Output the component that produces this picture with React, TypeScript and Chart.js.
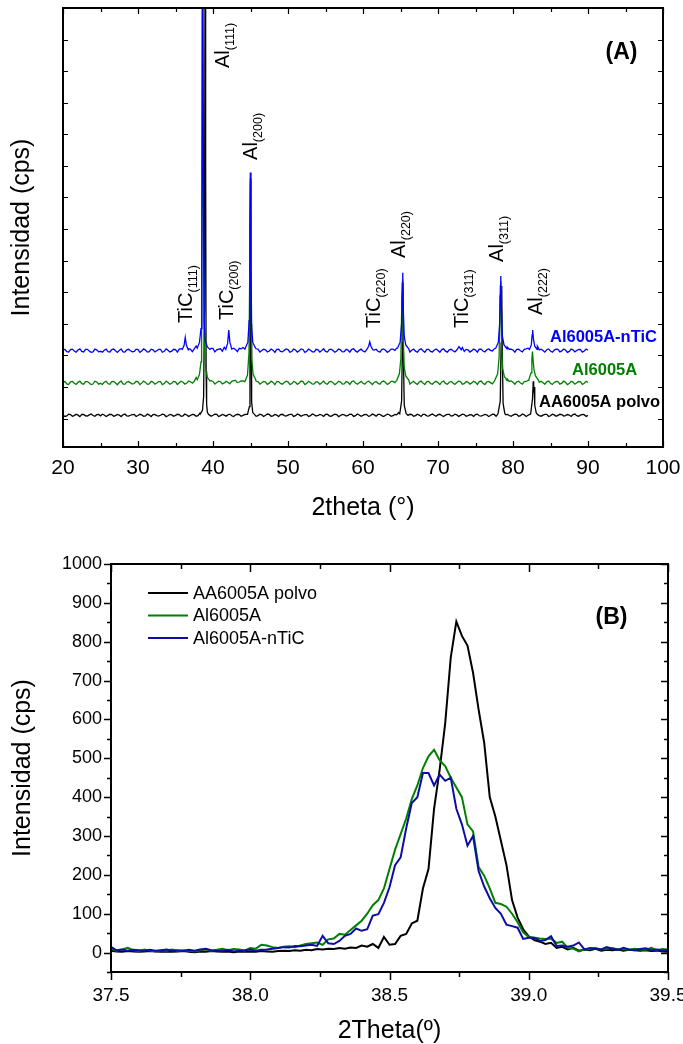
import React, { useEffect, useRef } from "react";
import { Chart, registerables } from "chart.js";
Chart.register(...registerables);

const FONT = "'Liberation Sans', Arial, Helvetica, sans-serif";

// ---------------- Panel (A) data ----------------
const seriesNames = ["AA6005A polvo", "Al6005A", "Al6005A-nTiC"];
const colorsA = ["#000000", "#008000", "#0000FF"];

const angleGrid = [
  20, 20.5, 21, 21.5, 22, 22.5, 23, 23.5, 24, 24.5,
  25, 25.5, 26, 26.5, 27, 27.5, 28, 28.5, 29, 29.5,
  30, 30.5, 31, 31.5, 32, 32.5, 33, 33.5, 34, 34.5,
  35, 35.5, 36, 36.5, 37, 37.5, 38, 38.5, 39, 39.5,
  40, 40.5, 41, 41.5, 42, 42.5, 43, 43.5, 44, 44.5,
  45, 45.5, 46, 46.5, 47, 47.5, 48, 48.5, 49, 49.5,
  50, 50.5, 51, 51.5, 52, 52.5, 53, 53.5, 54, 54.5,
  55, 55.5, 56, 56.5, 57, 57.5, 58, 58.5, 59, 59.5,
  60, 60.5, 61, 61.5, 62, 62.5, 63, 63.5, 64, 64.5,
  65, 65.5, 66, 66.5, 67, 67.5, 68, 68.5, 69, 69.5,
  70, 70.5, 71, 71.5, 72, 72.5, 73, 73.5, 74, 74.5,
  75, 75.5, 76, 76.5, 77, 77.5, 78, 78.5, 79, 79.5,
  80, 80.5, 81, 81.5, 82, 82.5, 83, 83.5, 84, 84.5,
  85, 85.5, 86, 86.5, 87, 87.5, 88, 88.5, 89, 89.5,
  90,
];

const angleGridMid = [
  20.25, 20.75, 21.25, 21.75, 22.25, 22.75, 23.25, 23.75, 24.25, 24.75,
  25.25, 25.75, 26.25, 26.75, 27.25, 27.75, 28.25, 28.75, 29.25, 29.75,
  30.25, 30.75, 31.25, 31.75, 32.25, 32.75, 33.25, 33.75, 34.25, 34.75,
  35.25, 35.75, 36.25, 36.75, 37.25, 37.75, 38.25, 38.75, 39.25, 39.75,
  40.25, 40.75, 41.25, 41.75, 42.25, 42.75, 43.25, 43.75, 44.25, 44.75,
  45.25, 45.75, 46.25, 46.75, 47.25, 47.75, 48.25, 48.75, 49.25, 49.75,
  50.25, 50.75, 51.25, 51.75, 52.25, 52.75, 53.25, 53.75, 54.25, 54.75,
  55.25, 55.75, 56.25, 56.75, 57.25, 57.75, 58.25, 58.75, 59.25, 59.75,
  60.25, 60.75, 61.25, 61.75, 62.25, 62.75, 63.25, 63.75, 64.25, 64.75,
  65.25, 65.75, 66.25, 66.75, 67.25, 67.75, 68.25, 68.75, 69.25, 69.75,
  70.25, 70.75, 71.25, 71.75, 72.25, 72.75, 73.25, 73.75, 74.25, 74.75,
  75.25, 75.75, 76.25, 76.75, 77.25, 77.75, 78.25, 78.75, 79.25, 79.75,
  80.25, 80.75, 81.25, 81.75, 82.25, 82.75, 83.25, 83.75, 84.25, 84.75,
  85.25, 85.75, 86.25, 86.75, 87.25, 87.75, 88.25, 88.75, 89.25, 89.75,
];

const blackBackground = [
  112, 84, 126, 95, 108, 131, 89, 117, 98, 124,
  86, 115, 102, 129, 93, 110, 121, 88, 105, 134,
  97, 119, 85, 111, 127, 94, 106, 123, 90, 116,
  101, 128, 87, 113, 99, 125, 92, 140, 160, 118,
  104, 131, 95, 109, 122, 89, 114, 126, 100, 135,
  150, 128, 91, 118, 103, 130, 87, 112, 124, 96,
  109, 133, 90, 117, 105, 127, 93, 120, 98, 114,
  131, 88, 108, 125, 97, 119, 104, 136, 92, 113,
  100, 126, 89, 115, 130, 95, 107, 122, 91, 118,
  160, 125, 102, 129, 94, 111, 132, 87, 116, 104,
  123, 96, 110, 134, 90, 119, 101, 127, 93, 114,
  128, 89, 106, 121, 99, 130, 110, 150, 126, 97,
  112, 133, 92, 118, 105, 140, 124, 95, 109, 131,
  88, 117, 103, 126, 94, 112, 129, 91, 108, 122,
  100,
];

const blackBackgroundMid = [
  68, 141, 75, 138, 62, 129, 80, 145, 71, 133,
  140, 66, 137, 74, 131, 63, 142, 77, 128, 69,
  135, 72, 144, 65, 130, 79, 139, 61, 134, 73,
  137, 70, 143, 68, 132, 76, 170, 400, 200, 75,
  139, 64, 133, 78, 141, 67, 136, 73, 129, 180,
  160, 71, 138, 66, 143, 75, 130, 62, 137, 79,
  134, 69, 141, 73, 128, 65, 145, 77, 132, 68,
  140, 72, 136, 63, 131, 80, 138, 67, 144, 74,
  129, 70, 142, 76, 135, 64, 139, 71, 133, 190,
  170, 68, 137, 75, 140, 66, 131, 79, 143, 72,
  136, 63, 130, 78, 141, 69, 138, 74, 127, 66,
  142, 77, 135, 65, 139, 72, 200, 300, 130, 70,
  137, 73, 144, 68, 131, 190, 160, 76, 134, 64,
  140, 71, 136, 79, 129, 67, 143, 74, 132, 69,
];

const greenBackground = [
  1135, 1098, 1162, 1120, 1147, 1105, 1171, 1128, 1093, 1156,
  1117, 1149, 1102, 1168, 1125, 1140, 1096, 1159, 1131, 1110,
  1164, 1122, 1145, 1099, 1153, 1127, 1172, 1108, 1141, 1118,
  1160, 1133, 1150, 1124, 1167, 1180, 1250, 1400, 1500, 1230,
  1175, 1142, 1166, 1129, 1152, 1180, 1210, 1158, 1190, 1260,
  1300, 1220, 1168, 1135, 1157, 1121, 1146, 1173, 1114, 1139,
  1162, 1105, 1150, 1127, 1169, 1116, 1144, 1098, 1158, 1132,
  1111, 1163, 1138, 1120, 1155, 1101, 1148, 1170, 1124, 1137,
  1119, 1160, 1131, 1145, 1112, 1166, 1140, 1122, 1175, 1200,
  1300, 1230, 1165, 1141, 1118, 1156, 1128, 1170, 1109, 1147,
  1134, 1161, 1115, 1152, 1126, 1143, 1168, 1107, 1154, 1130,
  1146, 1172, 1121, 1158, 1139, 1180, 1215, 1300, 1250, 1175,
  1148, 1163, 1129, 1170, 1210, 1260, 1190, 1152, 1136, 1161,
  1117, 1145, 1168, 1123, 1150, 1108, 1157, 1134, 1166, 1120,
  1142,
];

const greenBackgroundMid = [
  1178, 1082, 1175, 1079, 1186, 1088, 1172, 1075, 1183, 1091,
  1080, 1180, 1087, 1177, 1072, 1188, 1084, 1174, 1090, 1181,
  1076, 1185, 1083, 1179, 1089, 1171, 1078, 1187, 1085, 1176,
  1081, 1182, 1092, 1190, 1120, 1300, 1350, 2000, 1350, 1200,
  1090, 1185, 1095, 1180, 1100, 1200, 1140, 1195, 1170, 1380,
  1350, 1180, 1090, 1178, 1084, 1186, 1077, 1173, 1089, 1184,
  1079, 1176, 1086, 1189, 1074, 1181, 1091, 1170, 1083, 1187,
  1088, 1179, 1076, 1184, 1093, 1172, 1081, 1190, 1085, 1177,
  1090, 1183, 1078, 1175, 1087, 1188, 1080, 1178, 1140, 1330,
  2200, 1200, 1092, 1180, 1084, 1186, 1079, 1174, 1090, 1183,
  1077, 1189, 1086, 1176, 1081, 1185, 1088, 1172, 1093, 1180,
  1083, 1187, 1079, 1178, 1100, 1220, 1550, 1700, 1250, 1190,
  1085, 1182, 1090, 1175, 1160, 1700, 1280, 1180, 1087, 1186,
  1080, 1177, 1091, 1184, 1076, 1181, 1088, 1173, 1082, 1179,
];

const blueBackground = [
  2160, 2118, 2182, 2137, 2171, 2125, 2190, 2143, 2109, 2176,
  2131, 2165, 2120, 2187, 2146, 2158, 2112, 2179, 2150, 2128,
  2185, 2140, 2168, 2116, 2174, 2149, 2192, 2130, 2163, 2135,
  2181, 2200, 2400, 2230, 2195, 2210, 2260, 2400, 2600, 2280,
  2220, 2175, 2210, 2260, 2700, 2300, 2190, 2225, 2250, 2330,
  2500, 2320, 2198, 2152, 2177, 2139, 2166, 2193, 2127, 2160,
  2183, 2124, 2171, 2147, 2188, 2132, 2164, 2115, 2179, 2154,
  2126, 2185, 2157, 2139, 2176, 2121, 2168, 2191, 2142, 2161,
  2138, 2250, 2180, 2166, 2130, 2187, 2162, 2141, 2196, 2230,
  2350, 2260, 2186, 2163, 2134, 2178, 2149, 2193, 2127, 2170,
  2155, 2183, 2136, 2174, 2145, 2240, 2190, 2125, 2177, 2151,
  2168, 2195, 2140, 2180, 2160, 2205, 2240, 2350, 2280, 2196,
  2170, 2188, 2149, 2192, 2230, 2300, 2215, 2174, 2158, 2182,
  2136, 2167, 2190, 2143, 2172, 2128, 2179, 2156, 2186, 2139,
  2163,
];

const blueBackgroundMid = [
  2195, 2105, 2198, 2101, 2204, 2110, 2192, 2098, 2201, 2113,
  2102, 2197, 2108, 2203, 2096, 2206, 2107, 2194, 2112, 2199,
  2099, 2205, 2104, 2196, 2111, 2190, 2100, 2207, 2106, 2193,
  2103, 2210, 2350, 2215, 2120, 2300, 2400, 3000, 2500, 2220,
  2110, 2200, 2130, 2230, 2320, 2230, 2120, 2210, 2200, 2380,
  2400, 2210, 2105, 2199, 2109, 2202, 2097, 2195, 2111, 2204,
  2100, 2198, 2107, 2206, 2094, 2201, 2113, 2192, 2103, 2208,
  2106, 2196, 2099, 2203, 2112, 2191, 2102, 2209, 2105, 2197,
  2110, 2230, 2260, 2195, 2104, 2205, 2098, 2200, 2160, 2300,
  3200, 2230, 2108, 2201, 2101, 2207, 2097, 2194, 2110, 2202,
  2099, 2208, 2105, 2193, 2111, 2200, 2250, 2191, 2107, 2203,
  2102, 2198, 2109, 2205, 2140, 2270, 2600, 2700, 2260, 2200,
  2103, 2196, 2110, 2207, 2200, 2400, 2290, 2198, 2104, 2206,
  2100, 2195, 2108, 2203, 2097, 2199, 2112, 2192, 2106, 2201,
];

// peak regions: [2theta, intensity]
const blackPeaks = [
  [[38.3, 140], [38.6, 260], [38.75, 700], [38.86, 3500], [38.95, 16000], [39.02, 8000], [39.08, 1500], [39.15, 450], [39.25, 200], [39.4, 135]],
  [[44.6, 135], [44.85, 380], [44.93, 2600], [45.0, 7500], [45.07, 3000], [45.15, 520], [45.3, 190], [45.5, 140]],
  [[64.9, 150], [65.15, 560], [65.25, 2400], [65.32, 4300], [65.4, 1800], [65.5, 420], [65.75, 160]],
  [[78.0, 150], [78.3, 560], [78.42, 2400], [78.5, 4200], [78.58, 2000], [78.68, 480], [78.9, 170]],
  [[82.35, 140], [82.6, 620], [82.7, 1180], [82.76, 820], [82.82, 1000], [82.9, 420], [83.1, 180], [83.3, 125]],
];

const greenPeaks = [
  [[37.9, 1230], [38.2, 1400], [38.4, 1800], [38.48, 3200], [38.58, 16000], [38.7, 7000], [38.85, 2400], [39.0, 1600], [39.25, 1300], [39.6, 1190]],
  [[44.3, 1200], [44.6, 1380], [44.8, 2100], [44.9, 4800], [44.98, 7600], [45.06, 4000], [45.15, 1900], [45.35, 1400], [45.7, 1230]],
  [[64.5, 1210], [64.85, 1420], [65.05, 1900], [65.18, 3800], [65.28, 4400], [65.36, 2600], [65.48, 1650], [65.7, 1350], [66.1, 1220]],
  [[77.6, 1230], [77.95, 1420], [78.15, 1950], [78.28, 3900], [78.37, 4350], [78.46, 2500], [78.6, 1600], [78.85, 1330], [79.2, 1200]],
  [[82.1, 1230], [82.4, 1450], [82.52, 1900], [82.6, 2120], [82.68, 1850], [82.8, 1550], [83.0, 1350], [83.4, 1210]],
];

const bluePeaks = [
  [[35.9, 2190], [36.15, 2320], [36.3, 2570], [36.45, 2330], [36.7, 2180]],
  [[37.9, 2230], [38.2, 2420], [38.4, 2850], [38.52, 4300], [38.63, 16000], [38.72, 8000], [38.82, 3100], [38.98, 2450], [39.25, 2270], [39.6, 2190]],
  [[41.7, 2190], [41.95, 2380], [42.1, 2800], [42.25, 2420], [42.5, 2200]],
  [[44.3, 2230], [44.65, 2420], [44.82, 3100], [44.92, 6000], [44.98, 7790], [45.06, 5000], [45.15, 2900], [45.3, 2420], [45.6, 2260]],
  [[60.5, 2180], [60.75, 2290], [60.9, 2430], [61.05, 2300], [61.3, 2180]],
  [[64.6, 2230], [64.95, 2420], [65.15, 3000], [65.25, 4300], [65.3, 4620], [65.38, 3400], [65.5, 2600], [65.7, 2330], [66.1, 2210]],
  [[72.5, 2170], [72.8, 2280], [73.1, 2180]],
  [[77.7, 2230], [78.05, 2420], [78.22, 3000], [78.32, 4200], [78.37, 4515], [78.45, 3500], [78.55, 2650], [78.8, 2330], [79.2, 2210]],
  [[82.2, 2190], [82.45, 2340], [82.55, 2650], [82.62, 2805], [82.72, 2520], [82.9, 2290], [83.2, 2190]],
];

const xTicksA = [20, 30, 40, 50, 60, 70, 80, 90, 100];
const xMinorA = [25, 35, 45, 55, 65, 75, 85, 95];
const yTicksA = [0, 1000, 2000, 3000, 4000, 5000, 6000, 7000, 8000, 9000, 10000, 11000, 12000, 13000];

const peakLabelMain = ["TiC", "TiC", "Al", "Al", "TiC", "Al", "TiC", "Al", "Al"];
const peakLabelSub = ["(111)", "(200)", "(111)", "(200)", "(220)", "(220)", "(311)", "(311)", "(222)"];
const peakLabelAngle = [37.2, 42.67, 42.07, 45.87, 62.27, 65.6, 74.0, 78.67, 83.87];
const peakLabelIntensity = [3030, 3120, 11100, 8190, 2870, 5085, 2870, 4960, 3280];

const seriesLabelAngle = [83.47, 87.87, 84.93];
const seriesLabelIntensity = [526, 1539, 2584];

// ---------------- Panel (B) data ----------------
const colorsB = ["#000000", "#008000", "#0D0DA6"];

const thetaB = [
  37.5, 37.52, 37.54, 37.56, 37.58, 37.6, 37.62, 37.64, 37.66, 37.68,
  37.7, 37.72, 37.74, 37.76, 37.78, 37.8, 37.82, 37.84, 37.86, 37.88,
  37.9, 37.92, 37.94, 37.96, 37.98, 38.0, 38.02, 38.04, 38.06, 38.08,
  38.1, 38.12, 38.14, 38.16, 38.18, 38.2, 38.22, 38.24, 38.26, 38.28,
  38.3, 38.32, 38.34, 38.36, 38.38, 38.4, 38.42, 38.44, 38.46, 38.48,
  38.5, 38.52, 38.54, 38.56, 38.58, 38.6, 38.62, 38.64, 38.66, 38.68,
  38.7, 38.72, 38.74, 38.76, 38.78, 38.8, 38.82, 38.84, 38.86, 38.88,
  38.9, 38.92, 38.94, 38.96, 38.98, 39.0, 39.02, 39.04, 39.06, 39.08,
  39.1, 39.12, 39.14, 39.16, 39.18, 39.2, 39.22, 39.24, 39.26, 39.28,
  39.3, 39.32, 39.34, 39.36, 39.38, 39.4, 39.42, 39.44, 39.46, 39.48,
  39.5,
];

const polvoB = [
  5, 3, 2, 4, 3, 2, 3, 4, 3, 2,
  3, 2, 3, 4, 2, 1, 3, 2, 4, 3,
  2, 3, 1, 3, 2, 3, 2, 4, 3, 2,
  4, 5, 4, 6, 5, 7, 6, 9, 8, 10,
  9, 12, 10, 13, 12, 18, 15, 22, 12, 40,
  20, 22, 43, 48, 75, 82, 165, 215, 370, 470,
  590, 760, 852, 815, 790, 720, 625, 540, 400, 350,
  288, 225, 135, 90, 60, 42, 32, 28, 22, 25,
  12, 15, 8, 12, 5, 8, 6, 10, 5, 7,
  6, 8, 5, 7, 6, 5, 6, 4, 5, 3,
  2,
];

const al6005B = [
  10, 5, 8, 12, 6, 4, 8, 5, 3, 6,
  5, 8, 4, 6, 5, 3, 6, 8, 5, 7,
  10, 6, 9, 8, 5, 12, 10, 20, 18, 14,
  12, 15, 16, 14, 18, 22, 24, 26, 20, 34,
  36, 48, 46, 58, 70, 82, 100, 122, 135, 165,
  215, 265, 305, 345, 395, 430, 475, 505, 522, 495,
  480, 450, 425, 400, 330, 312, 220, 198, 165, 128,
  125, 118, 100, 78, 52, 40, 38, 36, 35, 36,
  25, 28, 12, 10, 3, 8, 10, 12, 8, 10,
  12, 8, 9, 7, 10, 8, 7, 12, 6, 9,
  8,
];

const nticB = [
  15, 6, 8, 5, 7, 6, 4, 7, 5, 6,
  8, 5, 6, 4, 7, 5, 8, 10, 6, 5,
  4, 7, 3, 5, 6, 8, 5, 7, 8, 10,
  12, 14, 13, 17, 16, 18, 20, 17, 43, 24,
  22, 30, 43, 48, 62, 56, 60, 95, 99, 128,
  168, 225, 245, 320, 385, 400, 462, 462, 430, 458,
  442, 450, 370, 330, 275, 300, 210, 170, 140, 115,
  100, 72, 68, 64, 35, 38, 38, 30, 32, 42,
  17, 18, 15, 18, 26, 8, 12, 10, 8, 14,
  10, 7, 12, 8, 6, 9, 11, 6, 8, 5,
  7,
];

const xTicksB = [37.5, 38.0, 38.5, 39.0, 39.5];
const xMinorB = [37.75, 38.25, 38.75, 39.25];
const yTicksB = [0, 100, 200, 300, 400, 500, 600, 700, 800, 900, 1000];
const yMinorB = [-50, 50, 150, 250, 350, 450, 550, 650, 750, 850, 950];

// ---------------- helpers ----------------
function buildSeries(grids: number[][], bgs: number[][], groups: number[][][]) {
  const pts: { x: number; y: number }[] = [];
  grids.forEach((grid, k) => {
    grid.forEach((x, i) => {
      const inside = groups.some((g) => x >= g[0][0] && x <= g[g.length - 1][0]);
      if (!inside) pts.push({ x, y: bgs[k][i] });
    });
  });
  groups.forEach((g) => g.forEach(([x, y]) => pts.push({ x, y })));
  pts.sort((a, b) => a.x - b.x);
  return pts;
}

function zipSeries(xs: number[], ys: number[]) {
  return xs.map((x, i) => ({ x, y: ys[i] }));
}

const framePlugin = {
  id: "frame",
  afterDatasetsDraw(chart: any, _args: any, opts: any) {
    const { ctx, chartArea } = chart;
    const { left, right, top, bottom } = chartArea;
    const xs = chart.scales.x;
    const ys = chart.scales.y;
    ctx.save();
    ctx.strokeStyle = "#000";
    ctx.lineWidth = opts.tickWidth;
    const out = opts.outward ? 1 : -1;
    const drawX = (vals: number[], len: number) => {
      vals.forEach((v) => {
        const px = Math.round(xs.getPixelForValue(v)) + 0.5;
        ctx.beginPath();
        ctx.moveTo(px, bottom);
        ctx.lineTo(px, bottom + out * len);
        ctx.moveTo(px, top);
        ctx.lineTo(px, top + len);
        ctx.stroke();
      });
    };
    const drawY = (vals: number[], len: number) => {
      vals.forEach((v) => {
        const py = Math.round(ys.getPixelForValue(v)) + 0.5;
        ctx.beginPath();
        ctx.moveTo(left, py);
        ctx.lineTo(left - out * len, py);
        ctx.moveTo(right, py);
        ctx.lineTo(right - len, py);
        ctx.stroke();
      });
    };
    drawX(opts.xMajor, opts.majorLen);
    drawX(opts.xMinor, opts.minorLen);
    drawY(opts.yMajor, opts.yMajorLen);
    drawY(opts.yMinor, opts.yMinorLen);
    ctx.lineWidth = opts.lineWidth;
    ctx.strokeRect(left, top, right - left, bottom - top);
    ctx.restore();
  },
};

const textPlugin = {
  id: "texts",
  afterDatasetsDraw(chart: any, _args: any, opts: any) {
    const { ctx } = chart;
    const xs = chart.scales.x;
    const ys = chart.scales.y;
    (opts.items || []).forEach((it: any) => {
      const px = xs.getPixelForValue(it.x);
      const py = ys.getPixelForValue(it.y);
      ctx.save();
      ctx.translate(px, py);
      if (it.rotate) ctx.rotate(it.rotate);
      ctx.fillStyle = it.color || "#000";
      ctx.font = it.font;
      ctx.textAlign = it.align || "left";
      ctx.textBaseline = it.baseline || "alphabetic";
      ctx.fillText(it.text, 0, 0);
      if (it.sub) {
        const w = ctx.measureText(it.text).width;
        ctx.font = it.subFont;
        ctx.textAlign = "left";
        ctx.fillText(it.sub, w, it.subShift);
      }
      ctx.restore();
    });
  },
};

const legendPlugin = {
  id: "innerLegend",
  afterDatasetsDraw(chart: any, _args: any, opts: any) {
    const { ctx, chartArea } = chart;
    ctx.save();
    chart.data.datasets.forEach((ds: any, i: number) => {
      const y = chartArea.top + opts.top + i * opts.rowGap;
      const x0 = chartArea.left + opts.left;
      ctx.strokeStyle = ds.borderColor;
      ctx.lineWidth = ds.borderWidth;
      ctx.beginPath();
      ctx.moveTo(x0, y);
      ctx.lineTo(x0 + opts.lineLen, y);
      ctx.stroke();
      ctx.fillStyle = "#000";
      ctx.font = opts.font;
      ctx.textAlign = "left";
      ctx.textBaseline = "middle";
      ctx.fillText(ds.label, x0 + opts.lineLen + opts.gap, y + 1);
    });
    ctx.restore();
  },
};

function buildConfigA(): any {
  const grids = [angleGrid, angleGridMid];
  const dataA = [
    buildSeries(grids, [blackBackground, blackBackgroundMid], blackPeaks),
    buildSeries(grids, [greenBackground, greenBackgroundMid], greenPeaks),
    buildSeries(grids, [blueBackground, blueBackgroundMid], bluePeaks),
  ];
  const items: any[] = [];
  peakLabelMain.forEach((m, i) => {
    items.push({
      x: peakLabelAngle[i],
      y: peakLabelIntensity[i],
      text: m,
      sub: peakLabelSub[i],
      font: `20px ${FONT}`,
      subFont: `12.5px ${FONT}`,
      subShift: 5,
      rotate: -Math.PI / 2,
    });
  });
  seriesNames.forEach((n, i) => {
    items.push({
      x: seriesLabelAngle[i],
      y: seriesLabelIntensity[i],
      text: n,
      font: `bold 16.5px ${FONT}`,
      color: colorsA[i],
      baseline: "middle",
    });
  });
  items.push({ x: 94.47, y: 11577, text: "(A)", font: `bold 23px ${FONT}`, align: "center", baseline: "middle" });

  return {
    type: "line",
    data: {
      datasets: dataA.map((d, i) => ({
        label: seriesNames[i],
        data: d,
        borderColor: colorsA[i],
        backgroundColor: colorsA[i],
        borderWidth: 1.3,
        pointRadius: 0,
        tension: 0,
        fill: false,
        order: 3 - i,
      })),
    },
    options: {
      responsive: false,
      animation: false,
      devicePixelRatio: 1,
      layout: { padding: { top: 8, right: 20, left: 0, bottom: 0 } },
      plugins: {
        legend: { display: false },
        tooltip: { enabled: false },
        frame: {
          xMajor: xTicksA, xMinor: xMinorA, yMajor: yTicksA, yMinor: [],
          majorLen: 6, minorLen: 4, yMajorLen: 5, yMinorLen: 3,
          outward: false, lineWidth: 2, tickWidth: 1.2,
        },
        texts: { items },
      },
      scales: {
        x: {
          type: "linear", min: 20, max: 100,
          afterBuildTicks: (s: any) => { s.ticks = xTicksA.map((v) => ({ value: v })); },
          afterFit: (s: any) => { s.height = 83; s.paddingLeft = 0; s.paddingRight = 0; },
          grid: { display: false, drawTicks: false, tickLength: 0 },
          border: { display: false },
          ticks: { padding: 9, color: "#000", font: { family: FONT, size: 21 }, maxRotation: 0, autoSkip: false, callback: (v: any) => String(v) },
          title: { display: true, text: "2theta (°)", color: "#000", font: { family: FONT, size: 25 }, padding: { top: 0, bottom: 7 } },
        },
        y: {
          type: "linear", min: -900, max: 13000,
          afterBuildTicks: (s: any) => { s.ticks = yTicksA.map((v) => ({ value: v })); },
          afterFit: (s: any) => { s.width = 63; s.paddingTop = 0; s.paddingBottom = 0; },
          grid: { display: false, drawTicks: false, tickLength: 0 },
          border: { display: false },
          ticks: { display: false },
          title: { display: true, text: "Intensidad (cps)", color: "#000", font: { family: FONT, size: 25 }, padding: { top: 7, bottom: 0 } },
        },
      },
    },
    plugins: [framePlugin, textPlugin],
  };
}

function buildConfigB(): any {
  const dataB = [zipSeries(thetaB, polvoB), zipSeries(thetaB, al6005B), zipSeries(thetaB, nticB)];
  return {
    type: "line",
    data: {
      datasets: dataB.map((d, i) => ({
        label: seriesNames[i],
        data: d,
        borderColor: colorsB[i],
        backgroundColor: colorsB[i],
        borderWidth: 2,
        pointRadius: 0,
        tension: 0,
        fill: false,
        order: 3 - i,
      })),
    },
    options: {
      responsive: false,
      animation: false,
      devicePixelRatio: 1,
      layout: { padding: { top: 34, right: 15, left: 0, bottom: 0 } },
      plugins: {
        legend: { display: false },
        tooltip: { enabled: false },
        frame: {
          xMajor: xTicksB, xMinor: xMinorB, yMajor: yTicksB, yMinor: yMinorB,
          majorLen: 8, minorLen: 5, yMajorLen: 7, yMinorLen: 4,
          outward: true, lineWidth: 2, tickWidth: 1.5,
        },
        texts: { items: [{ x: 39.297, y: 863, text: "(B)", font: `bold 23px ${FONT}`, align: "center", baseline: "middle" }] },
        innerLegend: { left: 37, top: 29, rowGap: 22.5, lineLen: 40, gap: 5, font: `18px ${FONT}` },
      },
      scales: {
        x: {
          type: "linear", min: 37.5, max: 39.5,
          afterBuildTicks: (s: any) => { s.ticks = xTicksB.map((v) => ({ value: v })); },
          afterFit: (s: any) => { s.height = 88; s.paddingLeft = 0; s.paddingRight = 0; },
          grid: { display: false, drawTicks: false, tickLength: 0 },
          border: { display: false },
          ticks: { padding: 12, color: "#000", font: { family: FONT, size: 19 }, maxRotation: 0, autoSkip: false, callback: (v: any) => Number(v).toFixed(1) },
          title: { display: true, text: "2Theta(º)", color: "#000", font: { family: FONT, size: 25 }, padding: { top: 0, bottom: 14 } },
        },
        y: {
          type: "linear", min: -50, max: 1000,
          afterBuildTicks: (s: any) => { s.ticks = yTicksB.map((v) => ({ value: v })); },
          afterFit: (s: any) => { s.width = 111; s.paddingTop = 0; s.paddingBottom = 0; },
          grid: { display: false, drawTicks: false, tickLength: 0 },
          border: { display: false },
          ticks: { padding: 9, color: "#000", font: { family: FONT, size: 18 }, autoSkip: false, callback: (v: any) => String(v) },
          title: { display: true, text: "Intensidad (cps)", color: "#000", font: { family: FONT, size: 25 }, padding: { top: 8, bottom: 0 } },
        },
      },
    },
    plugins: [framePlugin, textPlugin, legendPlugin],
  };
}

export default function App() {
  const refA = useRef<HTMLCanvasElement>(null);
  const refB = useRef<HTMLCanvasElement>(null);
  useEffect(() => {
    const a = new Chart(refA.current as HTMLCanvasElement, buildConfigA());
    const b = new Chart(refB.current as HTMLCanvasElement, buildConfigB());
    return () => {
      a.destroy();
      b.destroy();
    };
  }, []);
  return (
    <div style={{ position: "fixed", left: 0, top: 0, width: 683, height: 1044, overflow: "hidden", background: "#fff" }}>
      <canvas ref={refA} width={683} height={530} style={{ position: "absolute", left: 0, top: 0, width: 683, height: 530 }} />
      <canvas ref={refB} width={683} height={530} style={{ position: "absolute", left: 0, top: 530, width: 683, height: 530 }} />
    </div>
  );
}
